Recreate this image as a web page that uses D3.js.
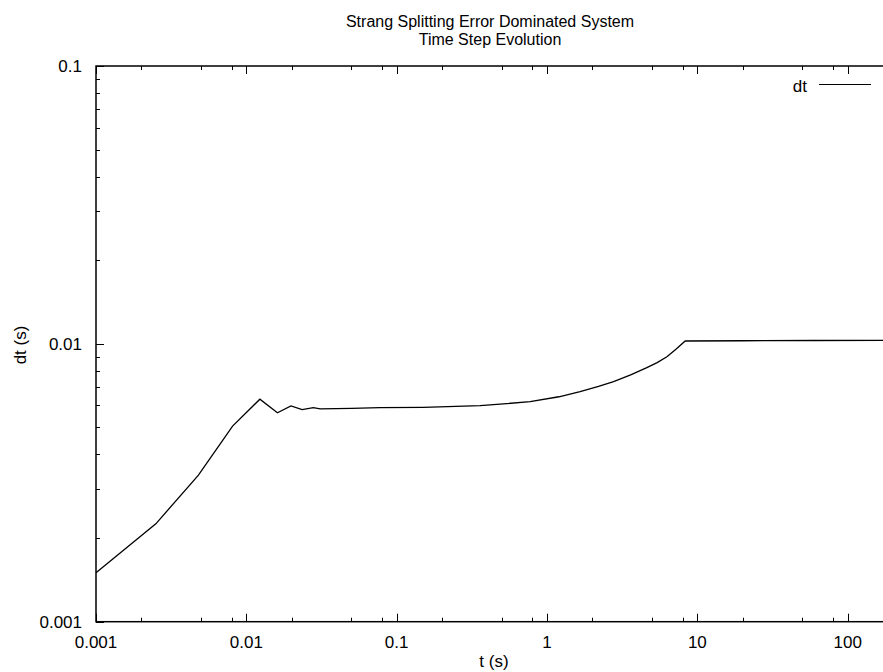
<!DOCTYPE html>
<html>
<head>
<meta charset="utf-8">
<script src="https://cdn.jsdelivr.net/npm/d3@7"></script>
<style>
  body { margin: 0; background: #fff; }
  text { font-family: "Liberation Sans", Arial, Helvetica, sans-serif; fill: #000; }
</style>
</head>
<body>
<div id="chart"></div>
<script>
// time (s) and time step dt (s)
const tValues = [0.001, 0.0025, 0.0048, 0.0081, 0.0123, 0.0161, 0.0198, 0.0235, 0.0279, 0.031,
                 0.05, 0.0775, 0.15, 0.359, 0.772, 1.2, 1.66, 2.2, 2.77, 3.6, 4.61, 5.4, 6.27, 7.2, 8.3,
                 20, 60, 197];
const dtValues = [0.00150, 0.00225, 0.00337, 0.00506, 0.00632, 0.00565, 0.00598, 0.00580, 0.00589, 0.00583,
                  0.00586, 0.00589, 0.00591, 0.00599, 0.00619, 0.00645, 0.00673, 0.00703, 0.00731, 0.00773,
                  0.00821, 0.00856, 0.00899, 0.00956, 0.01024,
                  0.01026, 0.01028, 0.0103];
const xTicks = [0.001, 0.01, 0.1, 1, 10, 100];
const yTicks = [0.001, 0.01, 0.1];
const xTickLabels = ["0.001", "0.01", "0.1", "1", "10", "100"];
const yTickLabels = ["0.001", "0.01", "0.1"];
const titleLines = ["Strang Splitting Error Dominated System", "Time Step Evolution"];

const width = 883, height = 672;
const plot = {left: 96, right: 892, top: 66, bottom: 621.7};

const svg = d3.select("#chart")
    .append("svg")
    .attr("width", width)
    .attr("height", height);

const x = d3.scaleLog().domain([0.001, 197]).range([plot.left, plot.right]);
const y = d3.scaleLog().domain([0.001, 0.1]).range([plot.bottom, plot.top]);

// minor ticks: x axis only shows 2,5,8 per decade, y shows 2..9
const xMinor = [];
for (let d = 0.001; d < 200; d *= 10) [2, 5, 8].forEach(m => { if (d * m <= 197) xMinor.push(d * m); });
const yMinor = [];
for (let d = 0.001; d < 0.1; d *= 10) [2, 3, 4, 5, 6, 7, 8, 9].forEach(m => yMinor.push(d * m));

const tickG = svg.append("g").attr("stroke", "#000").attr("stroke-width", 1);

// bottom and top ticks (pointing inward)
function xTickLines(vals, len) {
    vals.forEach(v => {
        const px = Math.round(x(v)) + 0.5;
        tickG.append("line").attr("x1", px).attr("x2", px).attr("y1", plot.bottom).attr("y2", plot.bottom - len);
        tickG.append("line").attr("x1", px).attr("x2", px).attr("y1", plot.top).attr("y2", plot.top + len);
    });
}
function yTickLines(vals, len) {
    vals.forEach(v => {
        const py = Math.round(y(v)) + 0.5;
        tickG.append("line").attr("x1", plot.left).attr("x2", plot.left + len).attr("y1", py).attr("y2", py);
    });
}
xTickLines(xTicks, 8);
xTickLines(xMinor, 4);
yTickLines(yTicks, 8);
yTickLines(yMinor, 4);

// frame
svg.append("rect")
    .attr("x", plot.left)
    .attr("y", plot.top)
    .attr("width", plot.right - plot.left)
    .attr("height", plot.bottom - plot.top)
    .attr("fill", "none")
    .attr("stroke", "#000")
    .attr("stroke-width", 1.5);

// tick labels
svg.append("g").selectAll("text")
    .data(xTicks)
    .join("text")
    .attr("x", d => x(d))
    .attr("y", 648)
    .attr("text-anchor", "middle")
    .style("font-size", "17px")
    .text((d, i) => xTickLabels[i]);

svg.append("g").selectAll("text")
    .data(yTicks)
    .join("text")
    .attr("x", 82)
    .attr("y", d => y(d) + 6)
    .attr("text-anchor", "end")
    .style("font-size", "17px")
    .text((d, i) => yTickLabels[i]);

// axis labels
svg.append("text")
    .attr("x", 494)
    .attr("y", 667)
    .attr("text-anchor", "middle")
    .style("font-size", "17px")
    .text("t (s)");

svg.append("text")
    .attr("transform", "translate(26,345) rotate(-90)")
    .attr("text-anchor", "middle")
    .style("font-size", "17px")
    .text("dt (s)");

// title, two lines
svg.append("g").selectAll("text")
    .data(titleLines)
    .join("text")
    .attr("x", 490)
    .attr("y", (d, i) => 26.5 + i * 18)
    .attr("text-anchor", "middle")
    .style("font-size", "16px")
    .text(d => d);

// the curve
const line = d3.line()
    .x(d => x(d[0]))
    .y(d => y(d[1]));

svg.append("path")
    .datum(tValues.map((t, i) => [t, dtValues[i]]))
    .attr("fill", "none")
    .attr("stroke", "#000")
    .attr("stroke-width", 1.3)
    .attr("d", line);

// legend
svg.append("text")
    .attr("x", 807)
    .attr("y", 92)
    .attr("text-anchor", "end")
    .style("font-size", "17px")
    .text("dt");

svg.append("line")
    .attr("x1", 819).attr("x2", 871)
    .attr("y1", 84.5).attr("y2", 84.5)
    .attr("stroke", "#000")
    .attr("stroke-width", 1.2);
</script>
</body>
</html>
